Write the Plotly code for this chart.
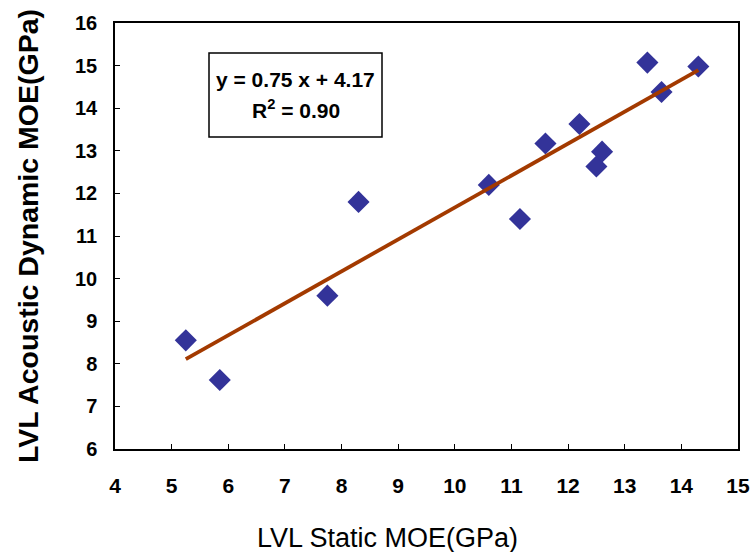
import plotly.graph_objects as go
import numpy as np

static_moe = [5.25, 5.85, 7.75, 8.3, 10.6, 11.15, 11.6, 12.2, 12.5, 12.6, 13.4, 13.65, 14.3]
dynamic_moe = [8.55, 7.62, 9.6, 11.8, 12.2, 11.4, 13.17, 13.63, 12.63, 12.98, 15.07, 14.38, 14.98]
slope, intercept, r2 = 0.75, 4.17, 0.90
x_ticks = list(range(4, 16))
y_ticks = list(range(6, 17))

fit_x = np.linspace(min(static_moe), max(static_moe), 50)
fit_y = slope * fit_x + intercept

FONT = "Liberation Sans, Arial, sans-serif"

# plot area in page pixels
PX0, PX1, PY0, PY1 = 115, 738, 23, 449
PW, PH = PX1 - PX0, PY1 - PY0


def px(x):
    return (x - PX0) / PW


def py(y):
    return 1 - (y - PY0) / PH


fig = go.Figure()
fig.add_trace(go.Scatter(x=static_moe, y=dynamic_moe, mode="markers",
                         marker=dict(symbol="diamond", size=17, color="#333399"),
                         showlegend=False))
fig.add_trace(go.Scatter(x=fit_x, y=fit_y, mode="lines",
                         line=dict(color="#A33A00", width=3.8), showlegend=False))

# equation box
fig.add_shape(type="rect", xref="paper", yref="paper",
              x0=px(209), x1=px(382), y0=py(137), y1=py(53),
              line=dict(color="black", width=1.5), fillcolor="white", layer="below")
fig.add_annotation(x=px(295.5), y=py(79), xref="paper", yref="paper", showarrow=False,
                   xanchor="center", yanchor="middle",
                   text=f"y = {slope:.2f} x + {intercept:.2f}",
                   font=dict(family=FONT, size=21, color="black", weight="bold"))
fig.add_annotation(x=px(295.5), y=py(109), xref="paper", yref="paper", showarrow=False,
                   xanchor="center", yanchor="middle",
                   text=f"R<sup>2</sup> = {r2:.2f}",
                   font=dict(family=FONT, size=21, color="black", weight="bold"))

# axis titles
fig.add_annotation(x=px(387.5), y=py(538), xref="paper", yref="paper", showarrow=False,
                   xanchor="center", yanchor="middle",
                   text="LVL Static MOE(GPa)",
                   font=dict(family=FONT, size=27, color="black"))
fig.add_annotation(x=px(28), y=py(236), xref="paper", yref="paper", showarrow=False,
                   xanchor="center", yanchor="middle", textangle=-90,
                   text="LVL Acoustic Dynamic MOE(GPa)",
                   font=dict(family=FONT, size=28.5, color="black", weight="bold"))

fig.update_layout(
    width=752, height=552,
    margin=dict(l=PX0, r=752 - PX1, t=PY0, b=552 - PY1),
    plot_bgcolor="white", paper_bgcolor="white",
)
fig.update_xaxes(range=[4, 15], tickvals=x_ticks, ticks="inside", ticklen=5, tickcolor="black",
                 showline=True, linecolor="black", linewidth=1.5, mirror=True, showgrid=False, zeroline=False,
                 automargin=False,
                 tickfont=dict(family=FONT, size=21, color="black", weight="bold"), ticklabelstandoff=17)
fig.update_yaxes(range=[6, 16], tickvals=y_ticks, ticks="inside", ticklen=5, tickcolor="black",
                 showline=True, linecolor="black", linewidth=1.5, mirror=True, showgrid=False, zeroline=False,
                 automargin=False,
                 tickfont=dict(family=FONT, size=20, color="black", weight="bold"), ticklabelstandoff=12)

fig.write_html("out.html", config={"displayModeBar": False},
               post_script="document.body.style.margin='0';document.body.style.overflow='hidden';")
